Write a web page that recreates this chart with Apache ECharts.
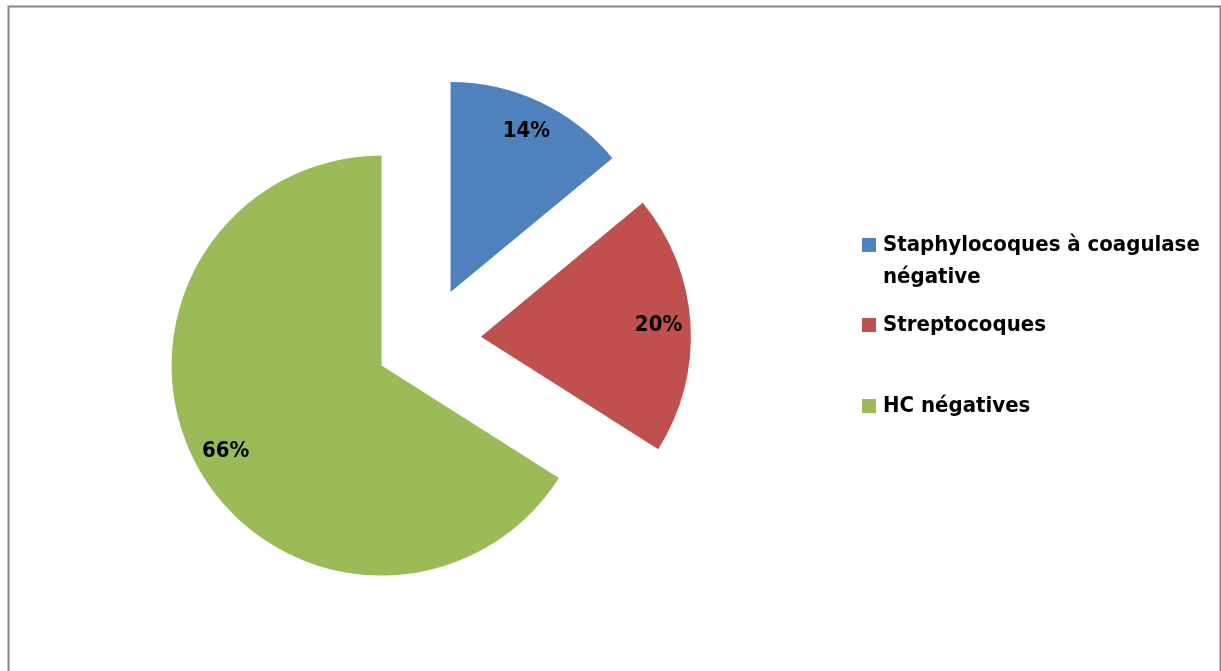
<!DOCTYPE html>
<html>
<head>
<meta charset="utf-8">
<script src="https://cdn.jsdelivr.net/npm/echarts@6/dist/echarts.min.js"></script>
<style>
html,body{margin:0;padding:0;background:#fff;}
#main{width:1221px;height:671px;}
</style>
</head>
<body>
<div id="main"></div>
<script>
const categories = ['Staphylocoques à coagulase négative', 'Streptocoques', 'HC négatives'];
const legendLabels = ['\nStaphylocoques à coagulase\nnégative', 'Streptocoques', 'HC négatives'];
const values = [14, 20, 66];
const colors = ['#4F81BD', '#C0504D', '#9BBB59'];

const FONT = "'Liberation Sans Narrow', 'Arial Narrow', 'DejaVu Sans Condensed', sans-serif";
const chart = echarts.init(document.getElementById('main'));

const mainData = categories.map((c, i) => ({ name: c, value: values[i], selected: true, itemStyle: { color: colors[i] } }));
const labelData = categories.map((c, i) => ({ name: c, value: values[i], selected: true }));

function legendFor(i, top) {
  return {
    data: [categories[i]],
    orient: 'vertical',
    left: 857,
    top: top,
    icon: 'rect',
    itemWidth: 14,
    itemHeight: 14,
    itemGap: 0,
    selectedMode: false,
    formatter: () => legendLabels[i],
    textStyle: { fontFamily: FONT, fontWeight: 'bold', fontSize: 22, color: '#000', lineHeight: 32, padding: [0, 0, 0, 2] }
  };
}

chart.setOption({
  animation: false,
  backgroundColor: '#fff',
  color: colors,
  graphic: [{
    type: 'rect', left: 6, top: 4, silent: true,
    shape: { width: 1212, height: 700 },
    style: { fill: 'none', stroke: '#868686', lineWidth: 2 }
  }],
  legend: [legendFor(0, 192), legendFor(1, 304), legendFor(2, 385)],
  series: [{
    type: 'pie',
    center: [428, 340],
    radius: [0, 210],
    startAngle: 90,
    clockwise: true,
    selectedMode: 'multiple',
    selectedOffset: 53,
    select: { itemStyle: { borderWidth: 0 } },
    emphasis: { disabled: true },
    label: { show: false },
    labelLine: { show: false },
    data: mainData
  }, {
    type: 'pie',
    center: [428, 340],
    radius: [140, 210],
    startAngle: 90,
    clockwise: true,
    selectedMode: 'multiple',
    selectedOffset: 53,
    silent: true,
    legendHoverLink: false,
    emphasis: { disabled: true },
    itemStyle: { color: 'rgba(0,0,0,0)' },
    select: { itemStyle: { color: 'rgba(0,0,0,0)', borderWidth: 0 } },
    label: {
      show: true, position: 'inside',
      formatter: p => p.value + '%',
      fontFamily: FONT, fontWeight: 'bold', fontSize: 22, color: '#000'
    },
    labelLine: { show: false },
    data: labelData
  }]
});
</script>
</body>
</html>
